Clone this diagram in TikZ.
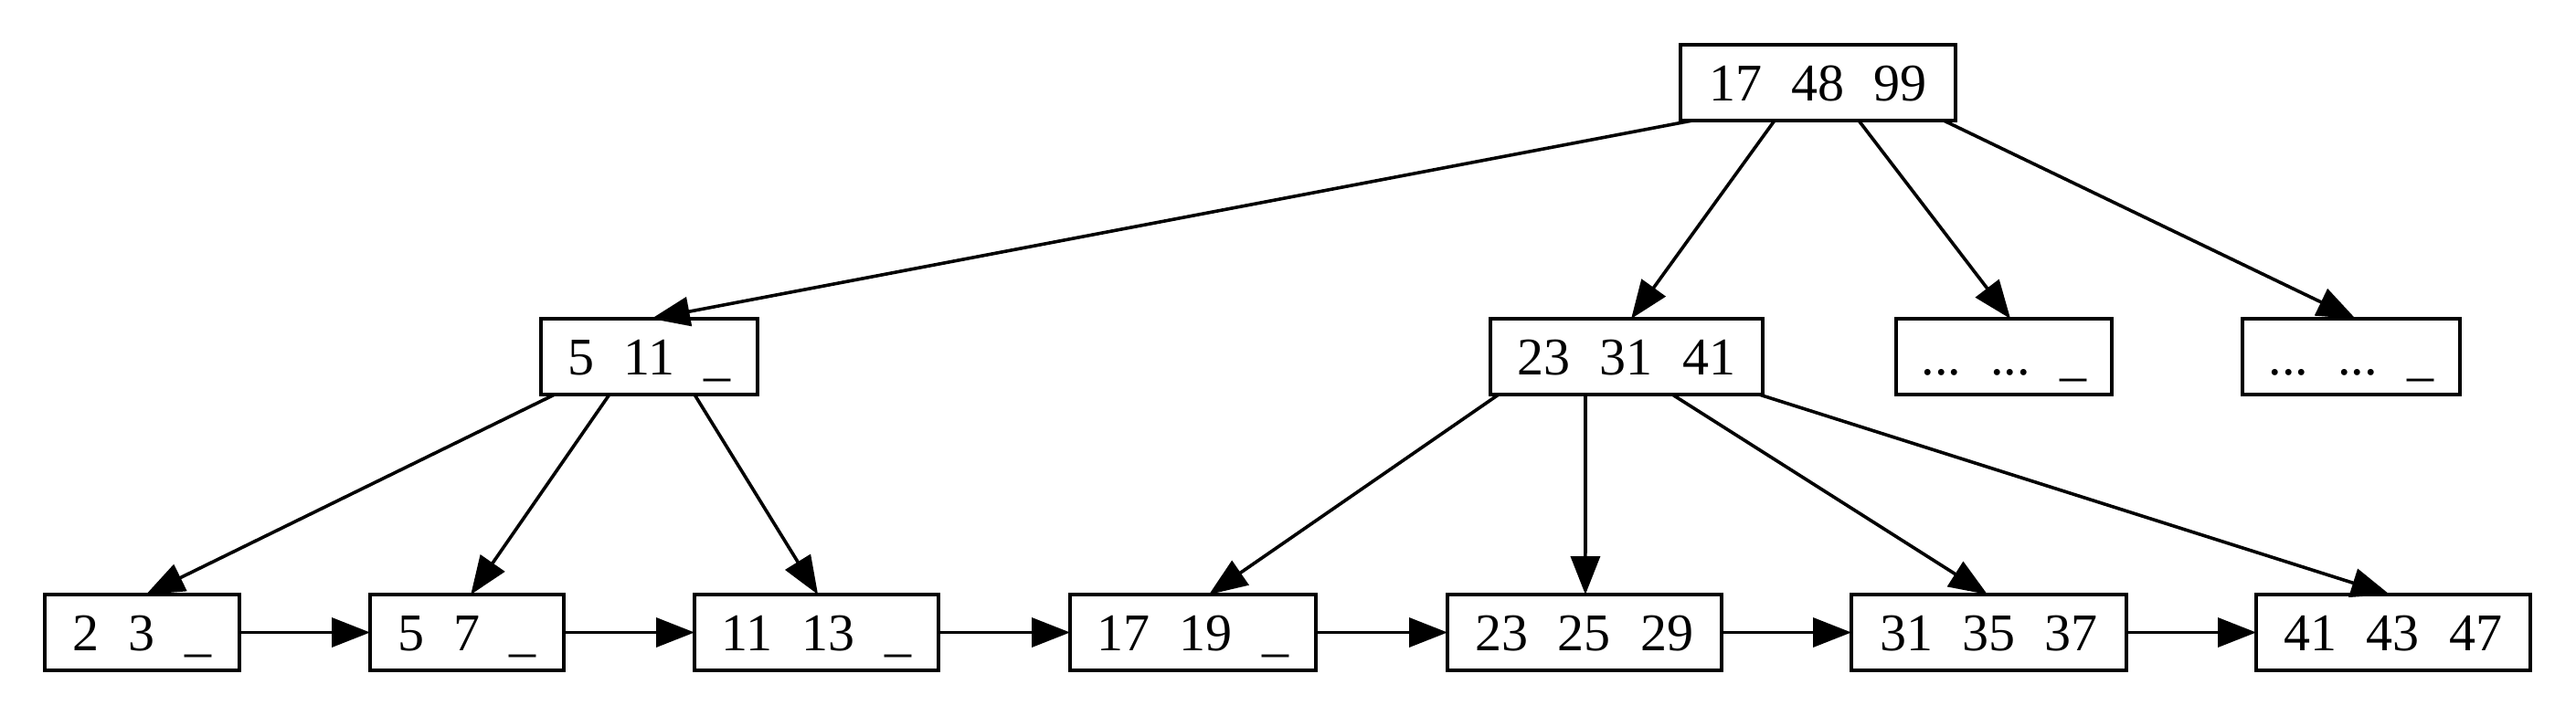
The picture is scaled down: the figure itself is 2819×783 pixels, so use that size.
\documentclass[tikz,border=0pt]{standalone}
\usepackage{fontspec}
\setmainfont{Liberation Serif}
\usetikzlibrary{arrows.meta,calc}
\tikzset{
  rec/.style={draw, line width=1.8pt, inner sep=0pt, outer sep=0pt,
    minimum height=41.5pt, font=\fontsize{29}{29}\selectfont,
    text height=19.6pt, text depth=0pt},
  edge/.style={line width=1.8pt, -{Triangle[length=21pt,width=16pt]}},
}
\newcommand\gp{\hspace{0.56em}}
\begin{document}
\begin{tikzpicture}[x=0.5pt,y=-0.5pt]
\useasboundingbox (0,0) rectangle (2819,783);
% level 1
\node[rec, minimum width=150.5pt] (root) at (1989.5,90.5) {17\gp48\gp99};
% level 2
\node[rec, minimum width=118.5pt] (a) at (710.5,390.5) {5\gp11\gp\_};
\node[rec, minimum width=149pt] (b) at (1780,390.5) {23\gp31\gp41};
\node[rec, minimum width=118pt] (c) at (2193,390.5) {...\gp...\gp\_};
\node[rec, minimum width=119pt] (d) at (2573,390.5) {...\gp...\gp\_};
% level 3
\node[rec, minimum width=106.5pt] (l1) at (155.5,692.5) {2\gp3\gp\_};
\node[rec, minimum width=106pt] (l2) at (511,692.5) {5\gp7\gp\_};
\node[rec, minimum width=133.5pt] (l3) at (893.5,692.5) {11\gp13\gp\_};
\node[rec, minimum width=134.5pt] (l4) at (1305.5,692.5) {17\gp19\gp\_};
\node[rec, minimum width=150pt] (l5) at (1734,692.5) {23\gp25\gp29};
\node[rec, minimum width=150.5pt] (l6) at (2176.5,692.5) {31\gp35\gp37};
\node[rec, minimum width=150pt] (l7) at (2619,692.5) {41\gp43\gp47};
% root edges
\draw[edge] ($(root.south west)!0.043!(root.south east)$) -- ($(a.north west)!0.51!(a.north east)$);
\draw[edge] ($(root.south west)!0.342!(root.south east)$) -- ($(b.north west)!0.517!(b.north east)$);
\draw[edge] ($(root.south west)!0.648!(root.south east)$) -- ($(c.north west)!0.53!(c.north east)$);
\draw[edge] ($(root.south west)!0.957!(root.south east)$) -- ($(d.north west)!0.52!(d.north east)$);
% a edges
\draw[edge] ($(a.south west)!0.063!(a.south east)$) -- ($(l1.north west)!0.52!(l1.north east)$);
\draw[edge] ($(a.south west)!0.316!(a.south east)$) -- ($(l2.north west)!0.52!(l2.north east)$);
\draw[edge] ($(a.south west)!0.709!(a.south east)$) -- ($(l3.north west)!0.506!(l3.north east)$);
% b edges
\draw[edge] ($(b.south west)!0.03!(b.south east)$) -- ($(l4.north west)!0.565!(l4.north east)$);
\draw[edge] ($(b.south west)!0.349!(b.south east)$) -- ($(l5.north west)!0.503!(l5.north east)$);
\draw[edge] ($(b.south west)!0.668!(b.south east)$) -- ($(l6.north west)!0.495!(l6.north east)$);
\draw[edge] ($(b.south west)!0.987!(b.south east)$) -- ($(l7.north west)!0.487!(l7.north east)$);
% leaf chain
\draw[edge] (l1.east) -- (l2.west);
\draw[edge] (l2.east) -- (l3.west);
\draw[edge] (l3.east) -- (l4.west);
\draw[edge] (l4.east) -- (l5.west);
\draw[edge] (l5.east) -- (l6.west);
\draw[edge] (l6.east) -- (l7.west);
\end{tikzpicture}
\end{document}
